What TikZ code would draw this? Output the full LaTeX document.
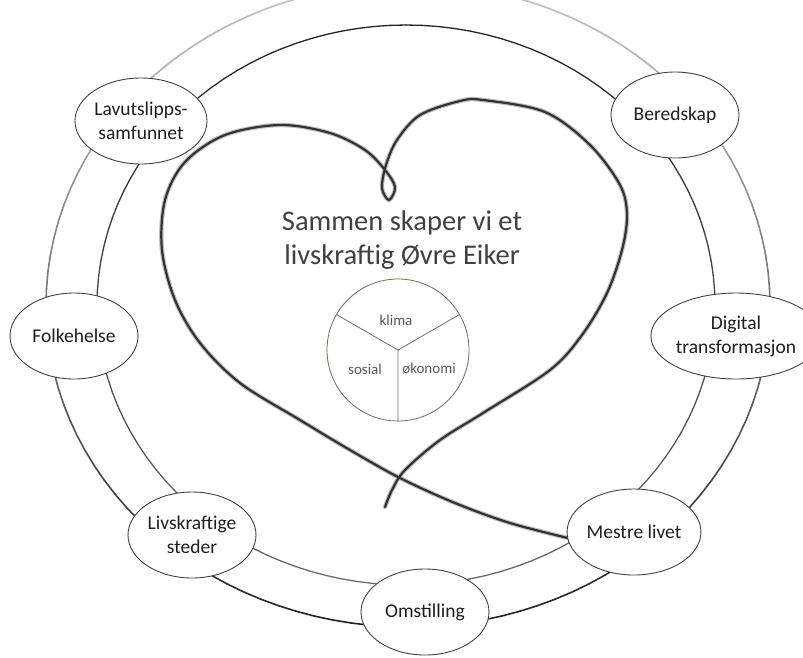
\documentclass[tikz,border=0pt]{standalone}
\usepackage{fontspec}
\setmainfont{Carlito}
\usetikzlibrary{shapes.geometric}
\definecolor{piecolor}{RGB}{112,108,88}
\definecolor{inkcolor}{RGB}{30,30,30}

\begin{document}
\begin{tikzpicture}[x=1pt, y=-1pt, line cap=round,
    theme/.style={ellipse, draw=black!75, line width=0.9pt, fill=white,
      minimum width=128pt, minimum height=86pt, inner sep=0pt, align=center,
      font=\fontsize{19.5}{24}\selectfont, text=inkcolor},
    slice/.style={font=\fontsize{15}{17}\selectfont, text=black!65}]

\useasboundingbox (0,0) rectangle (803,657);
\clip (0,0) rectangle (803,657);

% ------------------------------------------------------------------
% === EDITABLE PARAMETERS ==========================================
\def\oCx{408}   \def\oCy{305}   % outer ring centre
\def\oRx{362}   \def\oRy{322}   % outer ring radii
\def\iCx{406}   \def\iCy{305}   % inner ring centre
\def\iRx{309}   \def\iRy{280}   % inner ring radii
% ==================================================================
% ------------------------------------------------------------------

% --- outer ring: pale on top, dark at the bottom ------------------
\foreach \a in {0,3,...,357} {
  \pgfmathsetmacro{\tone}{55+32*sin(\a+1.5)}
  \draw[black!\tone, line width=1.6pt]
    ({\oCx+\oRx*cos(\a)},{\oCy+\oRy*sin(\a)}) --
    ({\oCx+\oRx*cos(\a+3)},{\oCy+\oRy*sin(\a+3)});
}

% --- inner ring: dark on top, paler at the bottom -----------------
\foreach \a in {0,3,...,357} {
  \pgfmathsetmacro{\tone}{72-14*sin(\a+1.5)}
  \draw[black!\tone, line width=1.3pt]
    ({\iCx+\iRx*cos(\a)},{\iCy+\iRy*sin(\a)}) --
    ({\iCx+\iRx*cos(\a+3)},{\iCy+\iRy*sin(\a+3)});
}

% === heart (one pencil stroke) ====================================
\foreach \w/\c in {4.4/black!25, 2.2/black!80}
  \draw[\c, line width=\w pt] plot[smooth, tension=0.55] coordinates {
    (572,539) (510,523) (455,503) (400,478) (350,450) (300,420)
    (240,383) (200,343) (175,300) (162,250) (165,200) (185,162)
    (225,135) (280,125) (330,133) (365,150) (385,170) (395,187)
    (389,200) (382,188) (386,165) (397,140) (420,115) (460,101)
    (483,100) (545,112) (590,145) (620,185) (627,215) (622,250)
    (607,293) (582,335) (550,370) (483,413) (440,440) (405,470)
    (392,490) (385,507)};

% === themes round the rings =======================================
\node[theme] (lavut)   at (141,121) {Lavutslipps-\\samfunnet};
\node[theme] (bered)   at (675,115) {Beredskap};
\node[theme] (digital) at (736,336) {Digital\\transformasjon};
\node[theme] (folke)   at (74,336)  {Folkehelse};
\node[theme] (livs)    at (192,535) {Livskraftige\\steder};
\node[theme] (omst)    at (425,612) {Omstilling};
\node[theme] (mestre)  at (634,532) {Mestre livet};

% --- title in the heart -------------------------------------------
\node[align=center, text=black!75, font=\fontsize{28.5}{34}\selectfont]
  (title) at (402,240) {Sammen skaper vi et\\livskraftig Øvre Eiker};

% --- the three parts ----------------------------------------------
\node[circle, draw=piecolor, line width=0.8pt, minimum size=142pt,
  inner sep=0pt] (pie) at (398,350) {};
\draw[piecolor, line width=0.8pt]
  (pie.center) -- (pie.150)
  (pie.center) -- (pie.30)
  (pie.center) -- (pie.270);
\node[slice] (klima)   at (396,320) {klima};
\node[slice] (sosial)  at (365,369) {sosial};
\node[slice] (okonomi) at (429,369) {økonomi};

\end{tikzpicture}
\end{document}
